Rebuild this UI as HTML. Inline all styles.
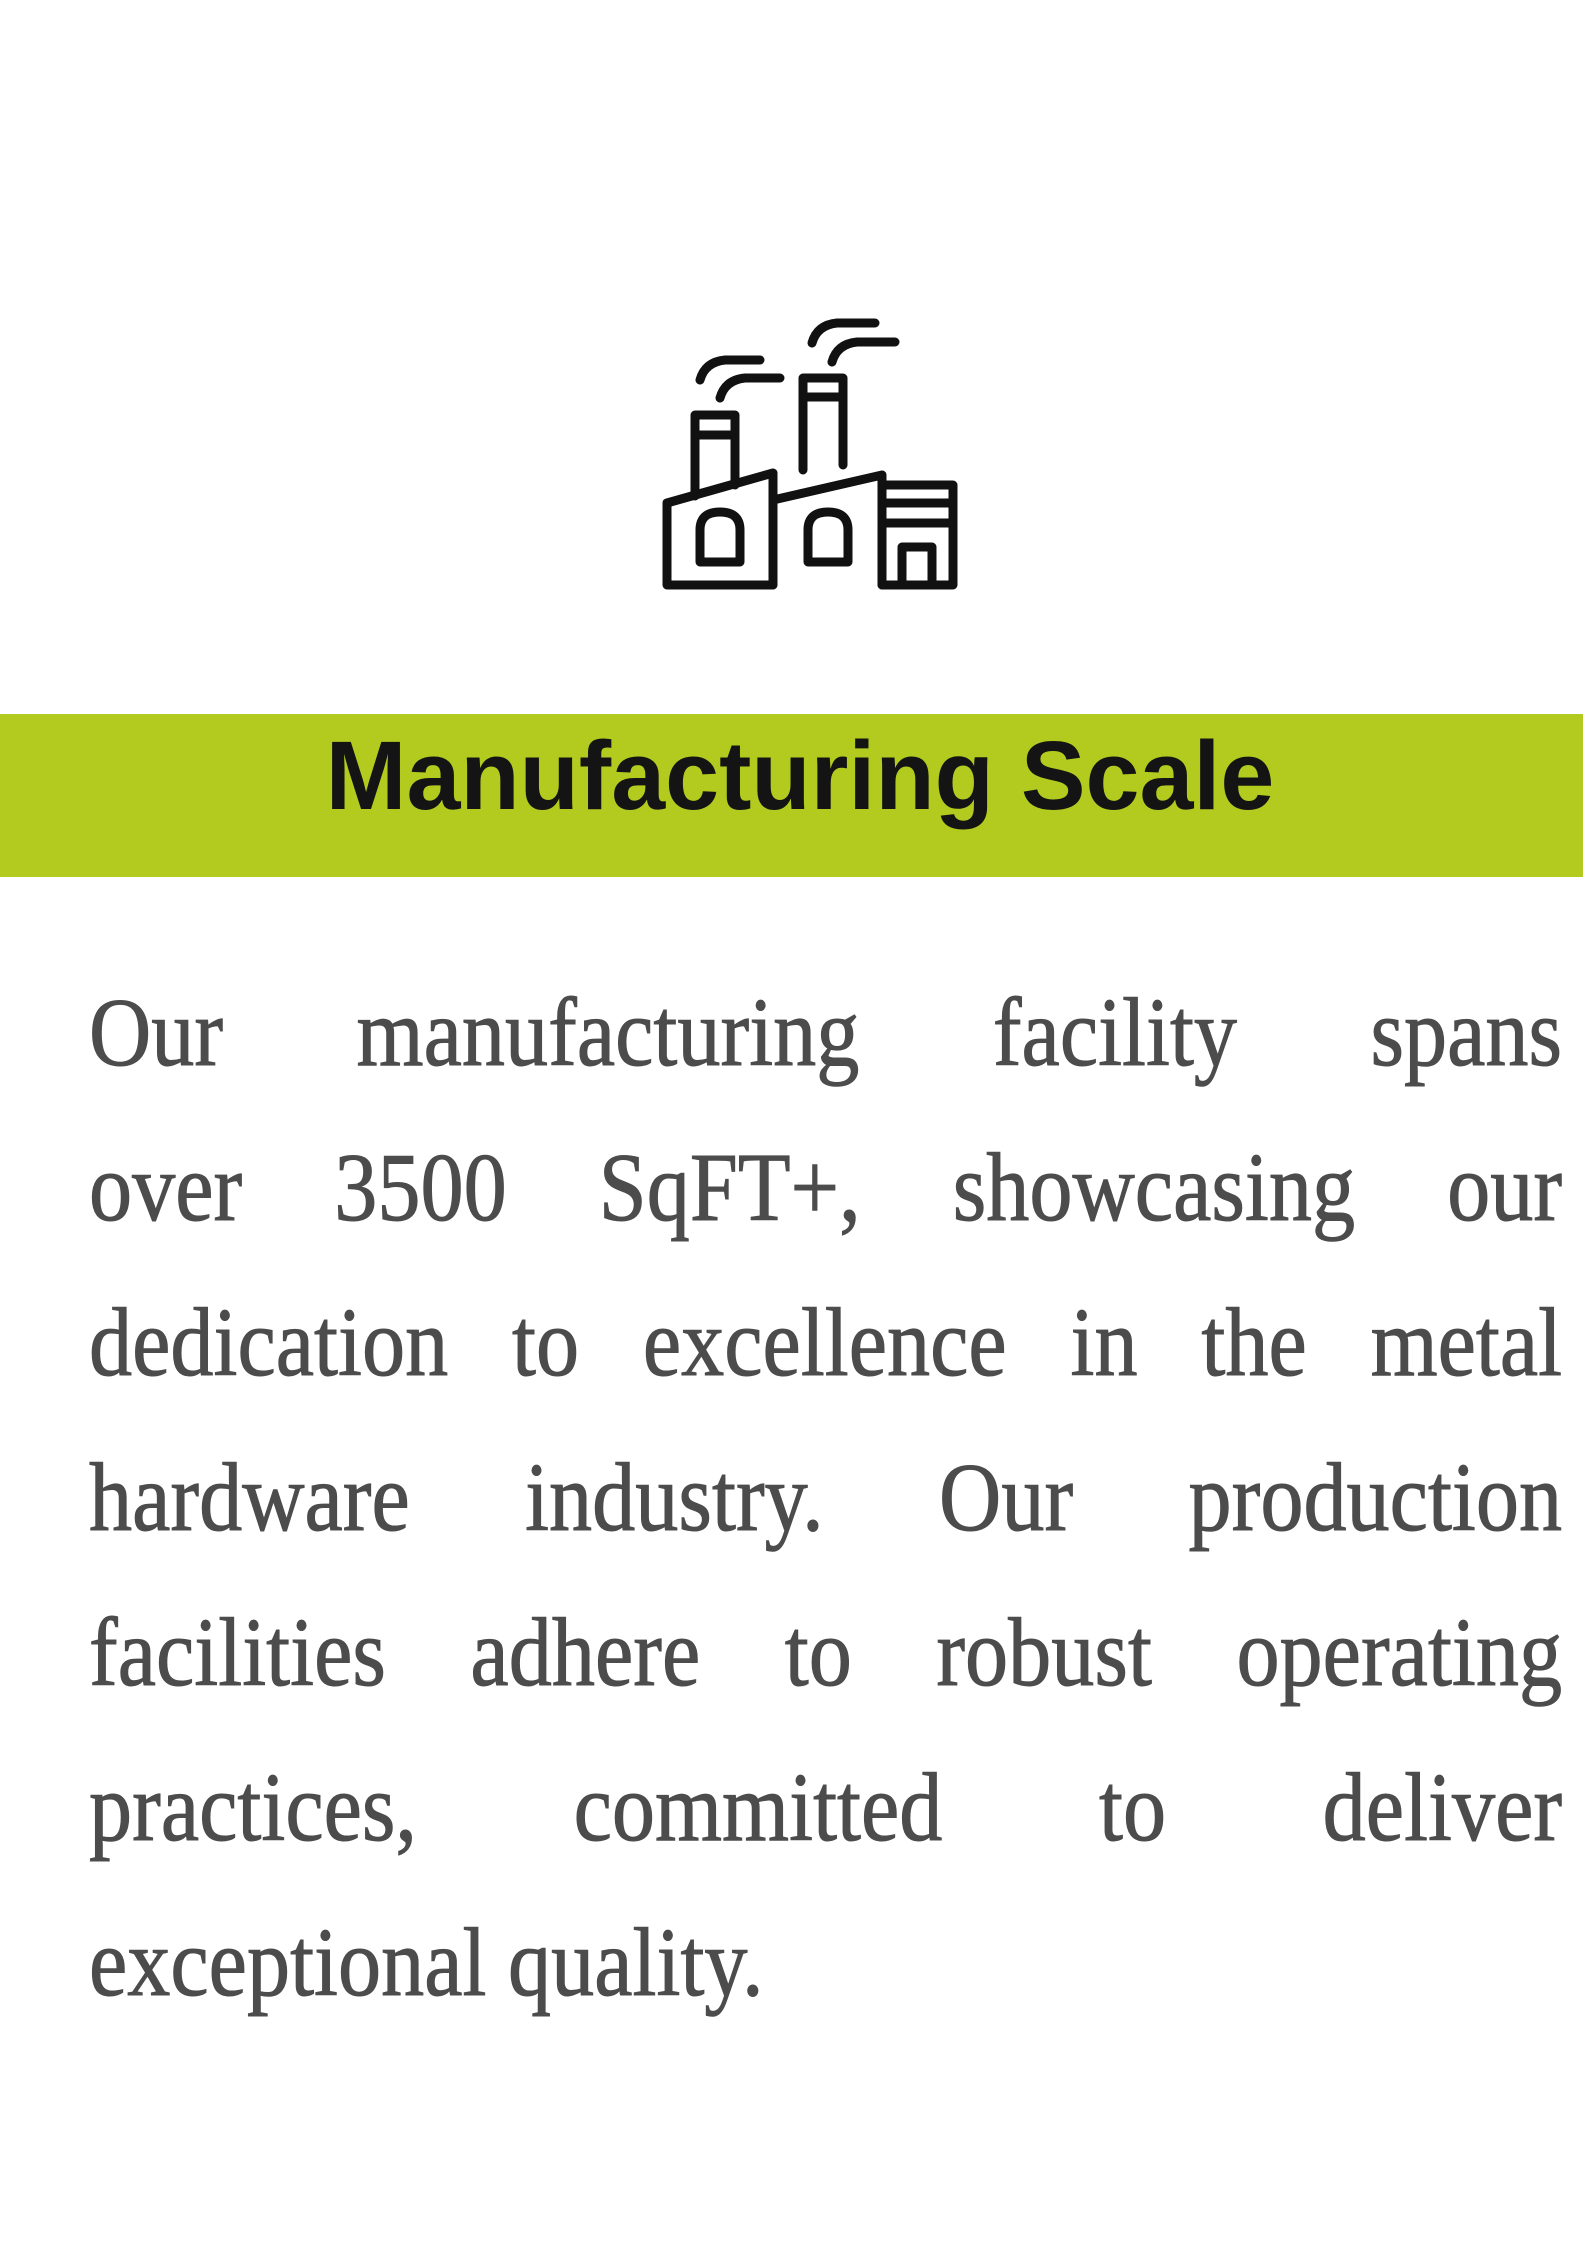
<!DOCTYPE html>
<html><head><meta charset="utf-8"><style>
html,body{margin:0;padding:0;background:#fff;}
body{width:1587px;height:2245px;position:relative;overflow:hidden;}
#bar{position:absolute;left:0;top:714px;width:1583px;height:163px;background:#b3cb1f;}
#title{position:absolute;left:0;width:1600px;top:720px;height:163px;line-height:163px;text-align:center;font:bold 97px "Liberation Sans",sans-serif;color:#141414;}
#desc{position:absolute;left:89px;top:0;width:1674px;transform:scaleX(0.88);transform-origin:0 0;}
.ln{position:absolute;left:0;width:1674px;font:98px "Liberation Serif",serif;color:#4c4c4c;-webkit-text-stroke:1px #4c4c4c;text-align:justify;text-align-last:justify;white-space:nowrap;line-height:100px;}
.ln.last{text-align-last:left;}
</style></head><body>
<svg style="position:absolute;left:0;top:0" width="1587" height="700" fill="none" stroke="#111" stroke-width="9" stroke-linejoin="round" stroke-linecap="round">
<path d="M667 585 V503 L773 473 V585 Z"/>
<path d="M773 585 V500 L882 475 V585"/>
<path d="M882 585 V485 H953 V585 Z"/>
<path d="M882 503 H953 M882 523 H953"/>
<path d="M902 585 V547 H932 V585"/>
<path d="M695 496 V415 H735 V485 M695 435 H735"/>
<path d="M803 470 V378 H843 V465 M803 397 H843"/>
<path d="M700 562 V530 Q700 512 720 512 Q740 512 740 530 V562 Z"/>
<path d="M808 562 V530 Q808 512 828 512 Q848 512 848 530 V562 Z"/>
<path d="M700 380 Q705 362 725 360 H760"/>
<path d="M720 398 Q725 380 745 378 H780"/>
<path d="M812 343 Q817 325 837 323 H875"/>
<path d="M832 362 Q837 344 857 342 H895"/>
</svg>
<div id="bar"></div>
<div id="title">Manufacturing Scale</div>
<div id="desc">
<div class="ln" style="top:983px">Our manufacturing facility spans</div>
<div class="ln" style="top:1138px">over 3500 SqFT+, showcasing our</div>
<div class="ln" style="top:1293px">dedication to excellence in the metal</div>
<div class="ln" style="top:1448px">hardware industry. Our production</div>
<div class="ln" style="top:1603px">facilities adhere to robust operating</div>
<div class="ln" style="top:1758px">practices, committed to deliver</div>
<div class="ln last" style="top:1913px">exceptional quality.</div>
</div>
</body></html>
